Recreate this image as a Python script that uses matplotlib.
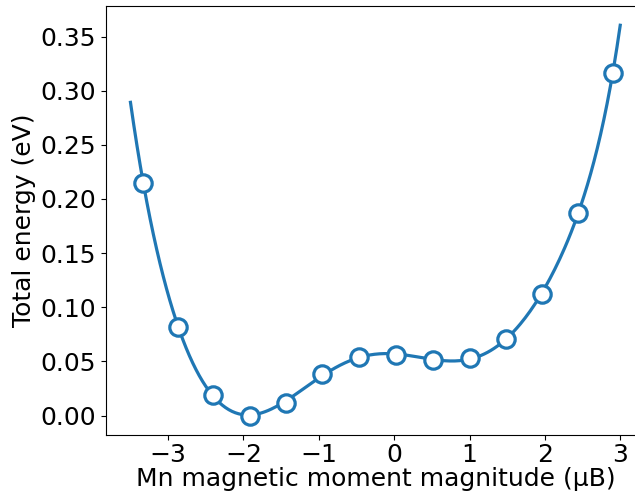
import matplotlib.pyplot as plt
import numpy as np

plt.rcParams['font.family'] = 'DejaVu Sans'
plt.rcParams['font.size'] = 18

# moment magnitude (muB) and total energy (eV)
moment = [-3.33, -2.87, -2.40, -1.92, -1.44, -0.96, -0.47, 0.02,
          0.52, 1.00, 1.48, 1.96, 2.44, 2.90]
energy = [0.215, 0.082, 0.019, 0.000, 0.012, 0.038, 0.054, 0.056,
          0.051, 0.053, 0.071, 0.112, 0.187, 0.316]

# range of the fitted curve
fit_lo, fit_hi = -3.5, 3.0

coef = np.polyfit(moment, energy, 8)
xs = np.linspace(fit_lo, fit_hi, 300)
ys = np.polyval(coef, xs)

fig = plt.figure(figsize=(6.35, 4.95), dpi=100)
ax = fig.add_axes([0.1669, 0.1212, 0.8484, 0.8661])

ax.plot(xs, ys, color='#1f77b4', linewidth=2.3)
ax.plot(moment, energy, 'o', markersize=12.5, markerfacecolor='white',
        markeredgecolor='#1f77b4', markeredgewidth=2.3)

ax.set_xlabel('Mn magnetic moment magnitude (μB)', labelpad=0)
ax.set_ylabel('Total energy (eV)', labelpad=3)
ax.set_xticks([-3, -2, -1, 0, 1, 2, 3])
ax.set_xticklabels(['−3', '−2', '−1', '0', '1', '2', '3'])
ax.set_yticks(np.arange(0, 0.36, 0.05))
ax.tick_params(axis='x', pad=2)
ax.set_xlim(-3.825, 3.325)
ax.set_ylim(-0.018, 0.378)

plt.savefig('out.png', dpi=100)
plt.close()
